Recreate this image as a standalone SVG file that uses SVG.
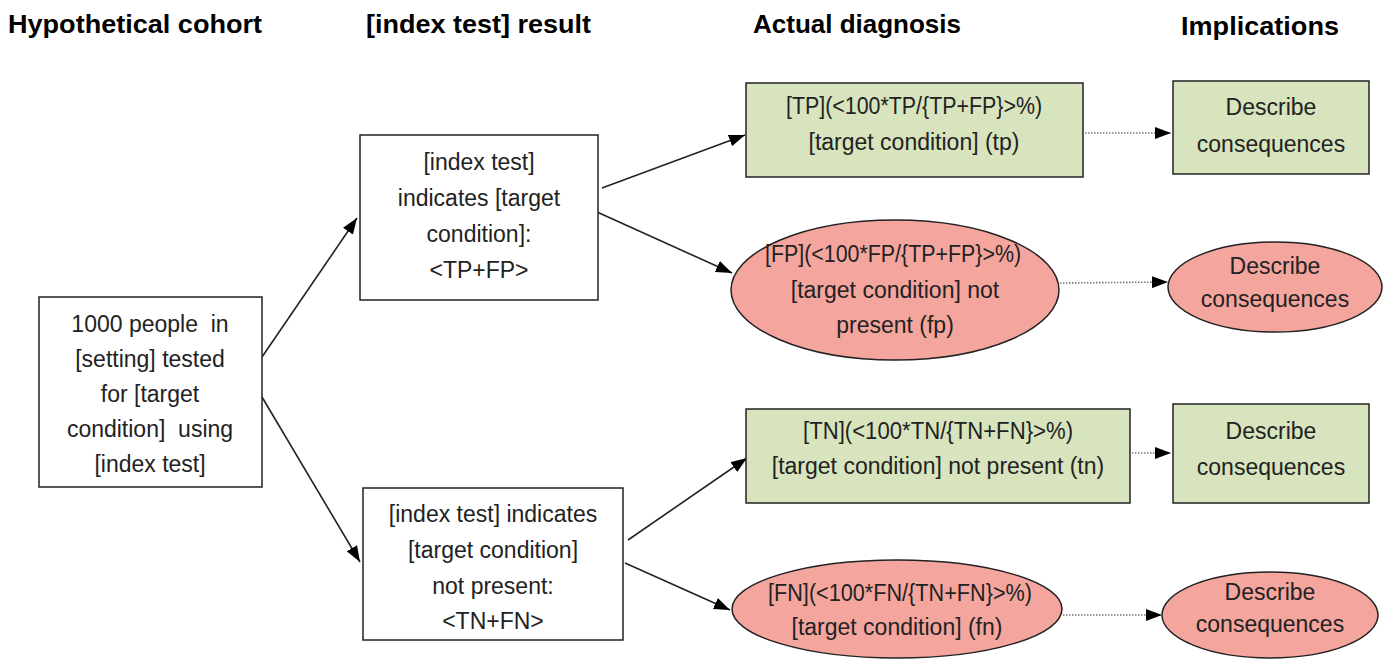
<svg xmlns="http://www.w3.org/2000/svg" width="1393" height="659" viewBox="0 0 1393 659">
<defs>
<marker id="ah" viewBox="0 0 16 12" refX="16" refY="6" markerWidth="16" markerHeight="12" markerUnits="userSpaceOnUse" orient="auto">
<path d="M0,0 L16,6 L0,12 z" fill="#000"/>
</marker>
<style>
.hd{font-family:"Liberation Sans",Arial,sans-serif;font-weight:bold;font-size:25px;fill:#000}
.t{font-family:"Liberation Sans",Arial,sans-serif;font-size:23px;fill:#222;text-anchor:middle;white-space:pre}
.wb{fill:#fff;stroke:#222;stroke-width:1.5}
.gb{fill:#d7e4bd;stroke:#222;stroke-width:1.5}
.rb{fill:#f4a59e;stroke:#222;stroke-width:1.5}
.ln{stroke:#222;stroke-width:1.6;fill:none;marker-end:url(#ah)}
.dl{stroke:#777;stroke-width:1.6;stroke-dasharray:1.5 1.5;fill:none;marker-end:url(#ah)}
</style>
</defs>
<rect width="1393" height="659" fill="#fff"/>
<g id="headers">
<text class="hd" x="8" y="33" textLength="254" lengthAdjust="spacingAndGlyphs">Hypothetical cohort</text>
<text class="hd" x="366" y="33" textLength="225" lengthAdjust="spacingAndGlyphs">[index test] result</text>
<text class="hd" x="753" y="33" textLength="208" lengthAdjust="spacingAndGlyphs">Actual diagnosis</text>
<text class="hd" x="1181" y="35" textLength="158" lengthAdjust="spacingAndGlyphs">Implications</text>
</g>
<g id="connectors">
<line class="ln" x1="262" y1="357" x2="357" y2="218"/>
<line class="ln" x1="262" y1="397" x2="360" y2="562"/>
<line class="ln" x1="602" y1="188" x2="745" y2="135"/>
<line class="ln" x1="597" y1="212" x2="732" y2="273"/>
<line class="ln" x1="628" y1="540" x2="747" y2="458"/>
<line class="ln" x1="625" y1="563" x2="730" y2="610"/>
<line class="dl" x1="1085" y1="133" x2="1171" y2="133"/>
<line class="dl" x1="1060" y1="283" x2="1168" y2="282"/>
<line class="dl" x1="1132" y1="453" x2="1171" y2="453"/>
<line class="dl" x1="1063" y1="615" x2="1162" y2="615"/>
</g>
<g id="cohort">
<rect class="wb" x="39" y="297" width="223" height="190"/>
<text class="t" x="150" y="332" xml:space="preserve">1000 people  in</text>
<text class="t" x="150" y="367">[setting] tested</text>
<text class="t" x="150" y="402">for [target</text>
<text class="t" x="150" y="437" xml:space="preserve">condition]  using</text>
<text class="t" x="150" y="472">[index test]</text>
</g>
<g id="index-positive">
<rect class="wb" x="360" y="135" width="238" height="165"/>
<text class="t" x="479" y="170">[index test]</text>
<text class="t" x="479" y="206">indicates [target</text>
<text class="t" x="479" y="242">condition]:</text>
<text class="t" x="479" y="278">&lt;TP+FP&gt;</text>
</g>
<g id="index-negative">
<rect class="wb" x="363" y="488" width="260" height="152"/>
<text class="t" x="493" y="522">[index test] indicates</text>
<text class="t" x="493" y="558">[target condition]</text>
<text class="t" x="493" y="594">not present:</text>
<text class="t" x="493" y="629">&lt;TN+FN&gt;</text>
</g>
<g id="tp">
<rect class="gb" x="746" y="83" width="337" height="94"/>
<text class="t" x="914" y="114" textLength="256" lengthAdjust="spacingAndGlyphs">[TP](&lt;100*TP/{TP+FP}&gt;%)</text>
<text class="t" x="914" y="150">[target condition] (tp)</text>
</g>
<g id="fp">
<ellipse class="rb" cx="895" cy="290" rx="164" ry="70"/>
<text class="t" x="893" y="262" textLength="256" lengthAdjust="spacingAndGlyphs">[FP](&lt;100*FP/{TP+FP}&gt;%)</text>
<text class="t" x="895" y="298">[target condition] not</text>
<text class="t" x="895" y="333">present (fp)</text>
</g>
<g id="tn">
<rect class="gb" x="746" y="409" width="384" height="94"/>
<text class="t" x="938" y="439" textLength="270" lengthAdjust="spacingAndGlyphs">[TN](&lt;100*TN/{TN+FN}&gt;%)</text>
<text class="t" x="938" y="474">[target condition] not present (tn)</text>
</g>
<g id="fn">
<ellipse class="rb" cx="897" cy="609" rx="165" ry="49"/>
<text class="t" x="900" y="601" textLength="264" lengthAdjust="spacingAndGlyphs">[FN](&lt;100*FN/{TN+FN}&gt;%)</text>
<text class="t" x="897" y="635">[target condition] (fn)</text>
</g>
<g id="impl-tp">
<rect class="gb" x="1173" y="81" width="196" height="93"/>
<text class="t" x="1271" y="115">Describe</text>
<text class="t" x="1271" y="152">consequences</text>
</g>
<g id="impl-fp">
<ellipse class="rb" cx="1275" cy="287" rx="107" ry="45"/>
<text class="t" x="1275" y="274">Describe</text>
<text class="t" x="1275" y="307">consequences</text>
</g>
<g id="impl-tn">
<rect class="gb" x="1173" y="404" width="196" height="99"/>
<text class="t" x="1271" y="439">Describe</text>
<text class="t" x="1271" y="475">consequences</text>
</g>
<g id="impl-fn">
<ellipse class="rb" cx="1270" cy="615" rx="108" ry="43"/>
<text class="t" x="1270" y="600">Describe</text>
<text class="t" x="1270" y="632">consequences</text>
</g>
</svg>
